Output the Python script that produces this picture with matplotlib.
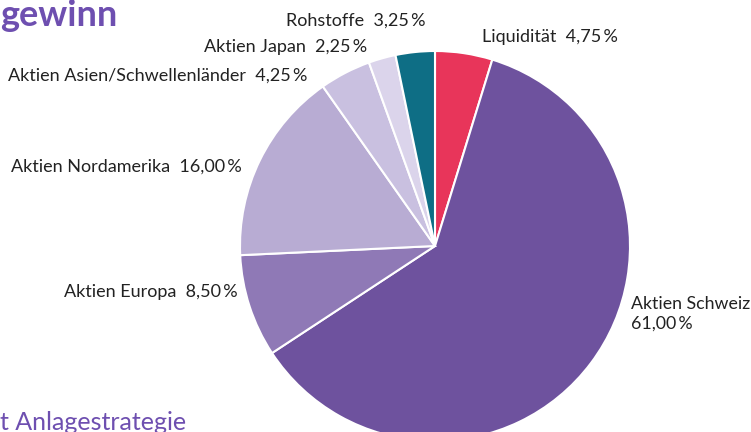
import matplotlib
matplotlib.use("Agg")
import matplotlib.pyplot as plt

categories = ["Liquidität", "Aktien Schweiz", "Aktien Europa", "Aktien Nordamerika",
              "Aktien Asien/Schwellenländer", "Aktien Japan", "Rohstoffe"]
values = [4.75, 61.00, 8.50, 16.00, 4.25, 2.25, 3.25]
colors = ["#e8355a", "#6e529e", "#8f79b6", "#b8acd3", "#c9c0e0", "#dbd4eb", "#0e6e85"]

W, H = 751, 432
fig = plt.figure(figsize=(W / 100, H / 100), dpi=100)
ax = fig.add_axes([0, 0, 1, 1])

cx, cy, r = 435, H - 246, 195
ax.pie(values, colors=colors, startangle=90, counterclock=False,
       center=(cx, cy), radius=r, frame=True,
       wedgeprops=dict(edgecolor="white", linewidth=1.5))
ax.set_xlim(0, W)
ax.set_ylim(0, H)
ax.set_aspect("equal")
ax.axis("off")

def fmt(v):
    return f"{v:.2f}".replace(".", ",") + "\u2009%"

font = "Lato"
fs = 13
tc = "#222222"
pos = {
    "Liquidität": (482, 37, "left"),
    "Aktien Schweiz": (631, 314, "left"),
    "Aktien Europa": (238, 292, "right"),
    "Aktien Nordamerika": (242, 167, "right"),
    "Aktien Asien/Schwellenländer": (307, 76, "right"),
    "Aktien Japan": (367, 47, "right"),
    "Rohstoffe": (426, 21, "right"),
}
for c, v in zip(categories, values):
    x, y, ha = pos[c]
    if c == "Aktien Schweiz":
        txt = f"{c}\n{fmt(v)}"
        size = 12.8
    else:
        txt = f"{c}  {fmt(v)}"
        size = fs
    ax.text(x, H - y, txt, ha=ha, va="center", fontsize=size, family=[font, "DejaVu Sans"],
            color=tc, linespacing=1.3)

ax.text(0, H - 15, "gewinn", ha="left", va="center", fontsize=26, fontweight="bold",
        family=[font, "DejaVu Sans"], color="#6e4fb0")
ax.text(0, H - 423, "t Anlagestrategie", ha="left", va="center", fontsize=18,
        family=[font, "DejaVu Sans"], color="#6e4fb0")

fig.savefig("out.png", dpi=100)
